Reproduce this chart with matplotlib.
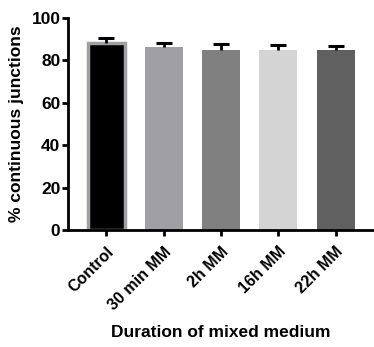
import matplotlib
matplotlib.use("Agg")
import matplotlib.pyplot as plt

# data
groups = ["Control", "30 min MM", "2h MM", "16h MM", "22h MM"]
means = [88.3, 86.0, 84.8, 84.8, 84.8]
errors = [2.0, 2.2, 2.9, 2.2, 1.7]
colors = ["#000000", "#a0a0a4", "#808080", "#d4d4d4", "#606060"]

plt.rcParams["font.family"] = ["Liberation Sans", "DejaVu Sans"]
plt.rcParams["font.weight"] = "bold"

fig = plt.figure(figsize=(3.74, 3.47), dpi=100)
ax = fig.add_axes([0.182, 0.337, 0.818, 0.612])

x = list(range(len(groups)))
bars = ax.bar(x, means, width=0.66, color=colors, zorder=2)
bars[0].set_edgecolor("#a0a0a4")
bars[0].set_linewidth(2.5)

# upper error bars only
eb = ax.errorbar(x, means, yerr=[[0] * len(errors), errors], fmt="none",
                 ecolor="black", elinewidth=2, capsize=6, capthick=2.2, zorder=3)
eb[1][0].set_visible(False)

ax.set_xlim(-0.67, 4.67)
ax.set_ylim(0, 100)
ax.set_yticks([0, 20, 40, 60, 80, 100])
ax.set_xticks(x)
ax.set_xticklabels(groups, rotation=45, ha="right", rotation_mode="anchor")

for side in ["top", "right"]:
    ax.spines[side].set_visible(False)
for side in ["left", "bottom"]:
    ax.spines[side].set_linewidth(2)
ax.tick_params(width=2, length=4)
ax.tick_params(axis="y", labelsize=12.5, pad=1.5)
ax.tick_params(axis="x", labelsize=11.5, pad=6)

ax.set_ylabel("% continuous junctions", fontsize=12.5, fontweight="bold", labelpad=5)
ax.set_xlabel("Duration of mixed medium", fontsize=12.5, fontweight="bold", labelpad=9)

fig.savefig("out.png", dpi=100)
